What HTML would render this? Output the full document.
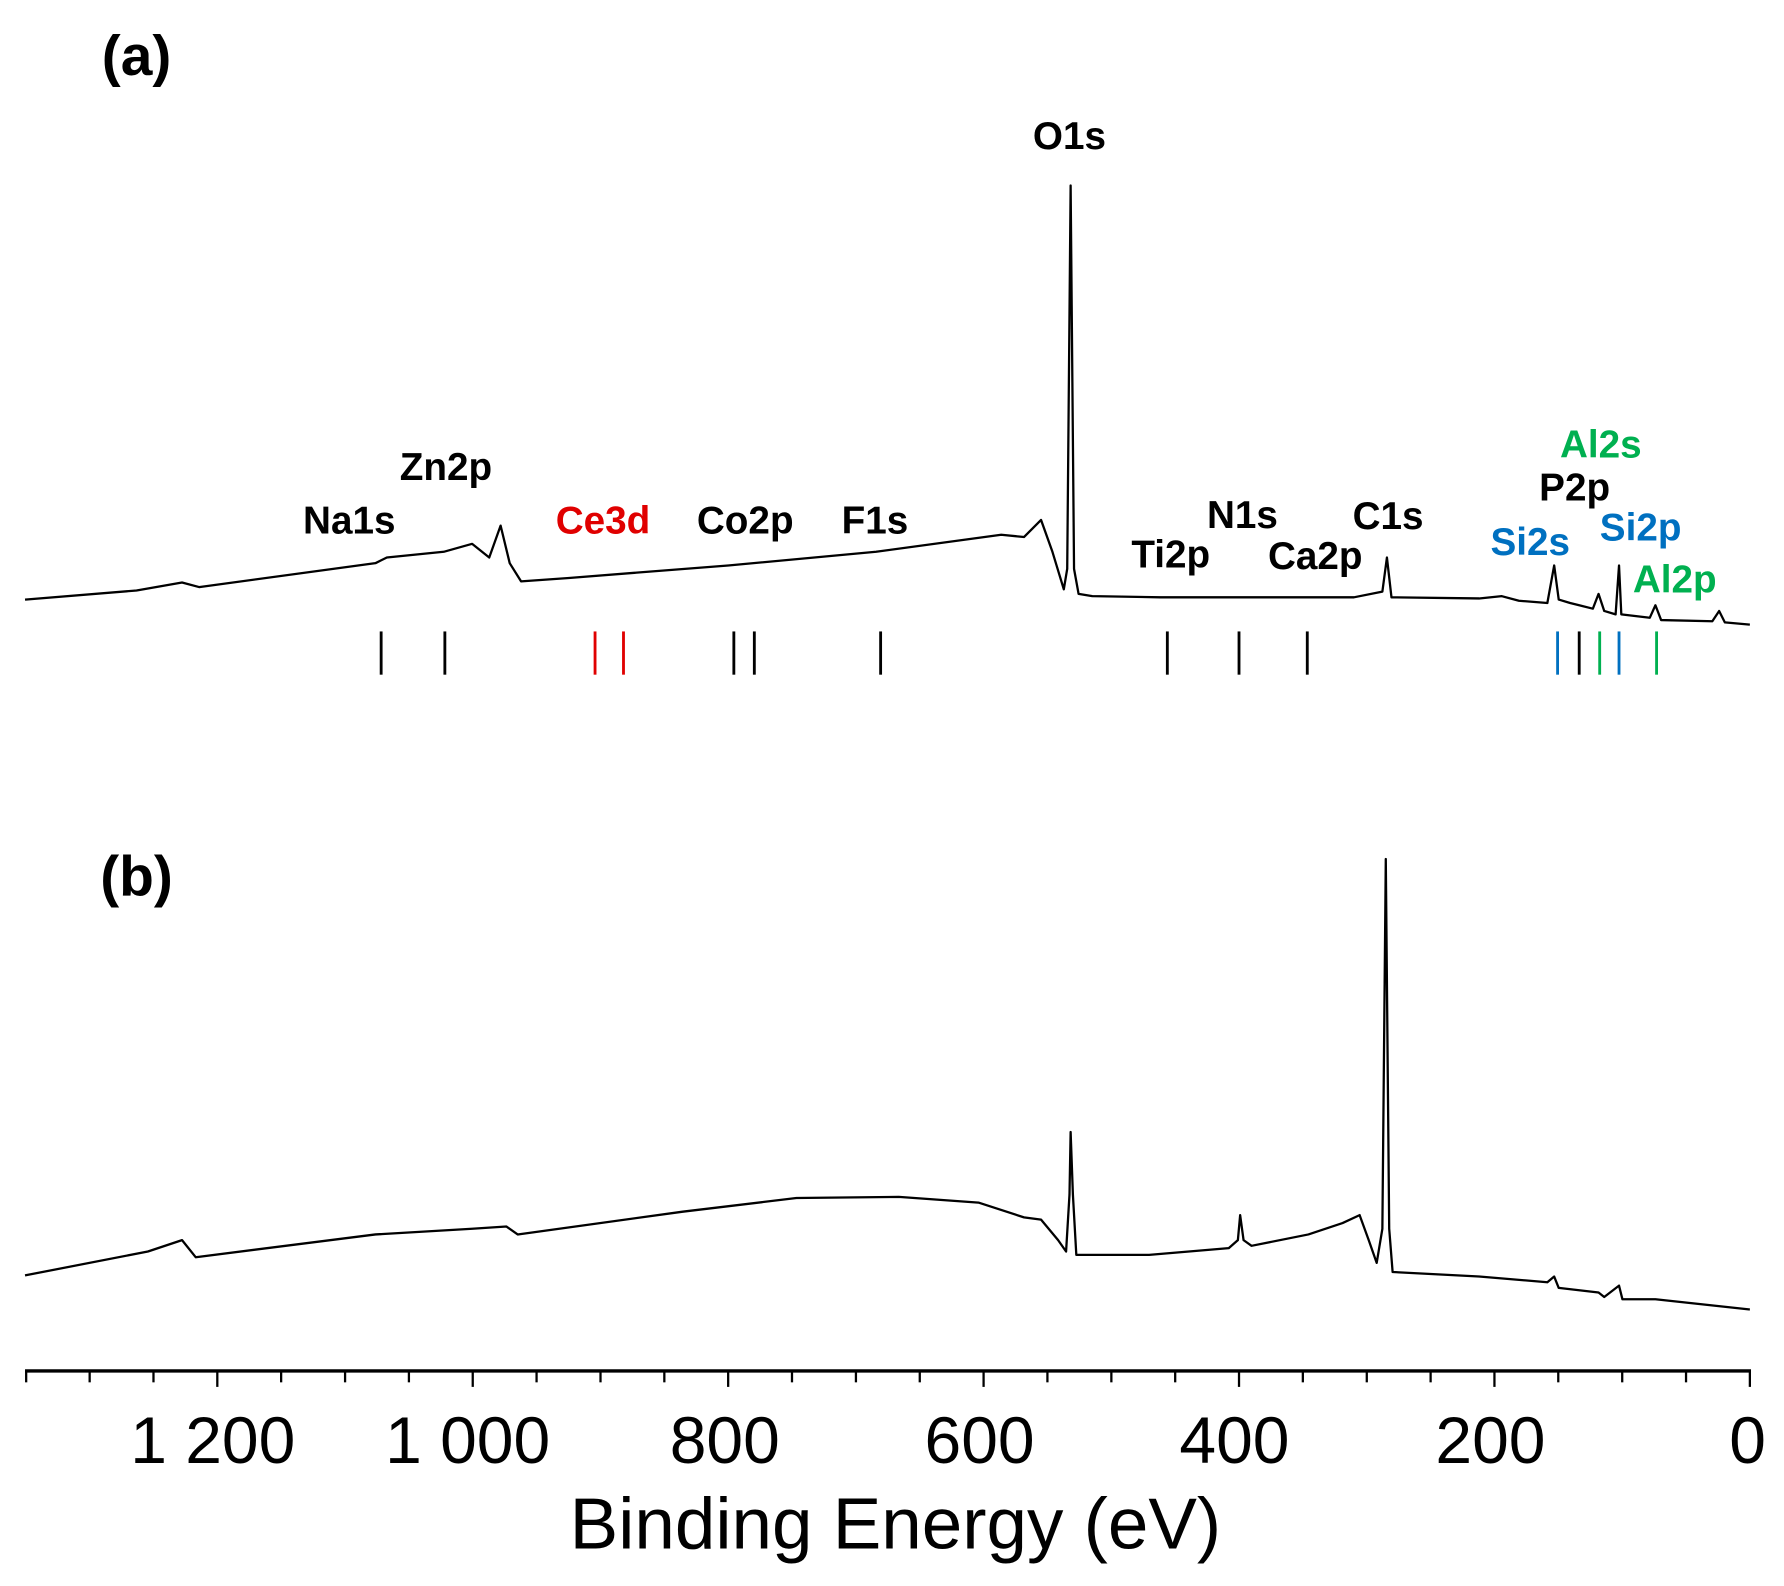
<!DOCTYPE html>
<html><head><meta charset="utf-8"><style>
html,body{margin:0;padding:0;background:#fff;}
svg{display:block;}
.l{font-family:"Liberation Sans",sans-serif;font-weight:bold;font-size:34px;text-anchor:middle;}
.t{font-family:"Liberation Sans",sans-serif;font-size:58px;text-anchor:middle;}
</style></head><body>
<svg width="1784" height="1586" viewBox="0 0 1568 1394" preserveAspectRatio="none" xmlns="http://www.w3.org/2000/svg">
<rect width="1568" height="1394" fill="#fff"/>
<text x="120" y="66" class="l" style="font-size:50px">(a)</text>
<text x="120" y="787" class="l" style="font-size:50px">(b)</text>
<g fill="none" stroke="#000" stroke-width="2" stroke-linejoin="round">
<polyline points="22,527 120,519 160,512 175,516 330,495 340,490 390,485 415,478 430,490 440,462 448,495 458,511 500,508 640,497 770,485 880,470 900,472 915,457 925,485 935,518 938,500 941,163 944,500 948,522 960,524 1020,525 1190,525 1215,520 1219,490 1223,525 1300,526 1320,524 1335,528 1360,530 1366,497 1370,527 1380,530 1388,532 1400,535 1405,522 1410,537 1420,540 1423,497 1425,540 1450,543 1455,532 1460,545 1505,546 1511,537 1516,547 1538,549"/>
<polyline points="22,1121 130,1100 160,1090 172,1105 330,1085 415,1080 445,1078 455,1085 600,1065 700,1053 790,1052 860,1057 900,1070 915,1072 930,1090 937,1100 940,1050 941,995 943,1050 946,1103 1010,1103 1080,1097 1088,1090 1090,1068 1093,1090 1100,1095 1150,1085 1180,1075 1195,1068 1203,1090 1210,1110 1215,1080 1218,755 1221,1080 1224,1118 1300,1122 1360,1127 1366,1122 1370,1132 1405,1136 1410,1140 1423,1130 1426,1142 1455,1142 1538,1151"/>
</g>
<g stroke-width="2.5">
<g stroke="#000"><line x1="335" y1="555" x2="335" y2="593"/><line x1="391" y1="555" x2="391" y2="593"/><line x1="645" y1="555" x2="645" y2="593"/><line x1="663" y1="555" x2="663" y2="593"/><line x1="774" y1="555" x2="774" y2="593"/><line x1="1026" y1="555" x2="1026" y2="593"/><line x1="1089" y1="555" x2="1089" y2="593"/><line x1="1149" y1="555" x2="1149" y2="593"/><line x1="1388" y1="555" x2="1388" y2="593"/></g>
<g stroke="#e00000"><line x1="523" y1="555" x2="523" y2="593"/><line x1="548" y1="555" x2="548" y2="593"/></g>
<g stroke="#0070c0"><line x1="1369" y1="555" x2="1369" y2="593"/><line x1="1423" y1="555" x2="1423" y2="593"/></g>
<g stroke="#00b050"><line x1="1406" y1="555" x2="1406" y2="593"/><line x1="1456" y1="555" x2="1456" y2="593"/></g>
</g>
<text x="940" y="131" class="l">O1s</text>
<text x="392" y="422" class="l">Zn2p</text>
<text x="307" y="469" class="l">Na1s</text>
<text x="530" y="469" class="l" fill="#e00000">Ce3d</text>
<text x="655" y="469" class="l">Co2p</text>
<text x="769" y="469" class="l">F1s</text>
<text x="1029" y="499" class="l">Ti2p</text>
<text x="1092" y="464" class="l">N1s</text>
<text x="1156" y="500" class="l">Ca2p</text>
<text x="1220" y="465" class="l">C1s</text>
<text x="1345" y="488" class="l" fill="#0070c0">Si2s</text>
<text x="1384" y="440" class="l">P2p</text>
<text x="1407" y="402" class="l" fill="#00b050">Al2s</text>
<text x="1442" y="475" class="l" fill="#0070c0">Si2p</text>
<text x="1472" y="521" class="l" fill="#00b050">Al2p</text>
<g stroke="#000" stroke-width="2">
<line x1="22" y1="1205" x2="1539" y2="1205" stroke-width="3"/>
<line x1="1538" y1="1205" x2="1538" y2="1219"/><line x1="1481.9" y1="1205" x2="1481.9" y2="1215"/><line x1="1425.8" y1="1205" x2="1425.8" y2="1215"/><line x1="1369.6" y1="1205" x2="1369.6" y2="1215"/><line x1="1313.5" y1="1205" x2="1313.5" y2="1219"/><line x1="1257.4" y1="1205" x2="1257.4" y2="1215"/><line x1="1201.3" y1="1205" x2="1201.3" y2="1215"/><line x1="1145.1" y1="1205" x2="1145.1" y2="1215"/><line x1="1089" y1="1205" x2="1089" y2="1219"/><line x1="1032.9" y1="1205" x2="1032.9" y2="1215"/><line x1="976.8" y1="1205" x2="976.8" y2="1215"/><line x1="920.6" y1="1205" x2="920.6" y2="1215"/><line x1="864.5" y1="1205" x2="864.5" y2="1219"/><line x1="808.4" y1="1205" x2="808.4" y2="1215"/><line x1="752.3" y1="1205" x2="752.3" y2="1215"/><line x1="696.1" y1="1205" x2="696.1" y2="1215"/><line x1="640" y1="1205" x2="640" y2="1219"/><line x1="583.9" y1="1205" x2="583.9" y2="1215"/><line x1="527.8" y1="1205" x2="527.8" y2="1215"/><line x1="471.6" y1="1205" x2="471.6" y2="1215"/><line x1="415.5" y1="1205" x2="415.5" y2="1219"/><line x1="359.4" y1="1205" x2="359.4" y2="1215"/><line x1="303.3" y1="1205" x2="303.3" y2="1215"/><line x1="247.1" y1="1205" x2="247.1" y2="1215"/><line x1="191" y1="1205" x2="191" y2="1219"/><line x1="134.9" y1="1205" x2="134.9" y2="1215"/><line x1="78.8" y1="1205" x2="78.8" y2="1215"/><line x1="23" y1="1205" x2="23" y2="1215"/>
</g>
<text x="187" y="1286" class="t">1 200</text>
<text x="411" y="1286" class="t">1 000</text>
<text x="637" y="1286" class="t">800</text>
<text x="861" y="1286" class="t">600</text>
<text x="1085" y="1286" class="t">400</text>
<text x="1310" y="1286" class="t">200</text>
<text x="1536" y="1286" class="t">0</text>
<text x="787" y="1361" class="t" style="font-size:64px">Binding Energy (eV)</text>
</svg>
</body></html>
